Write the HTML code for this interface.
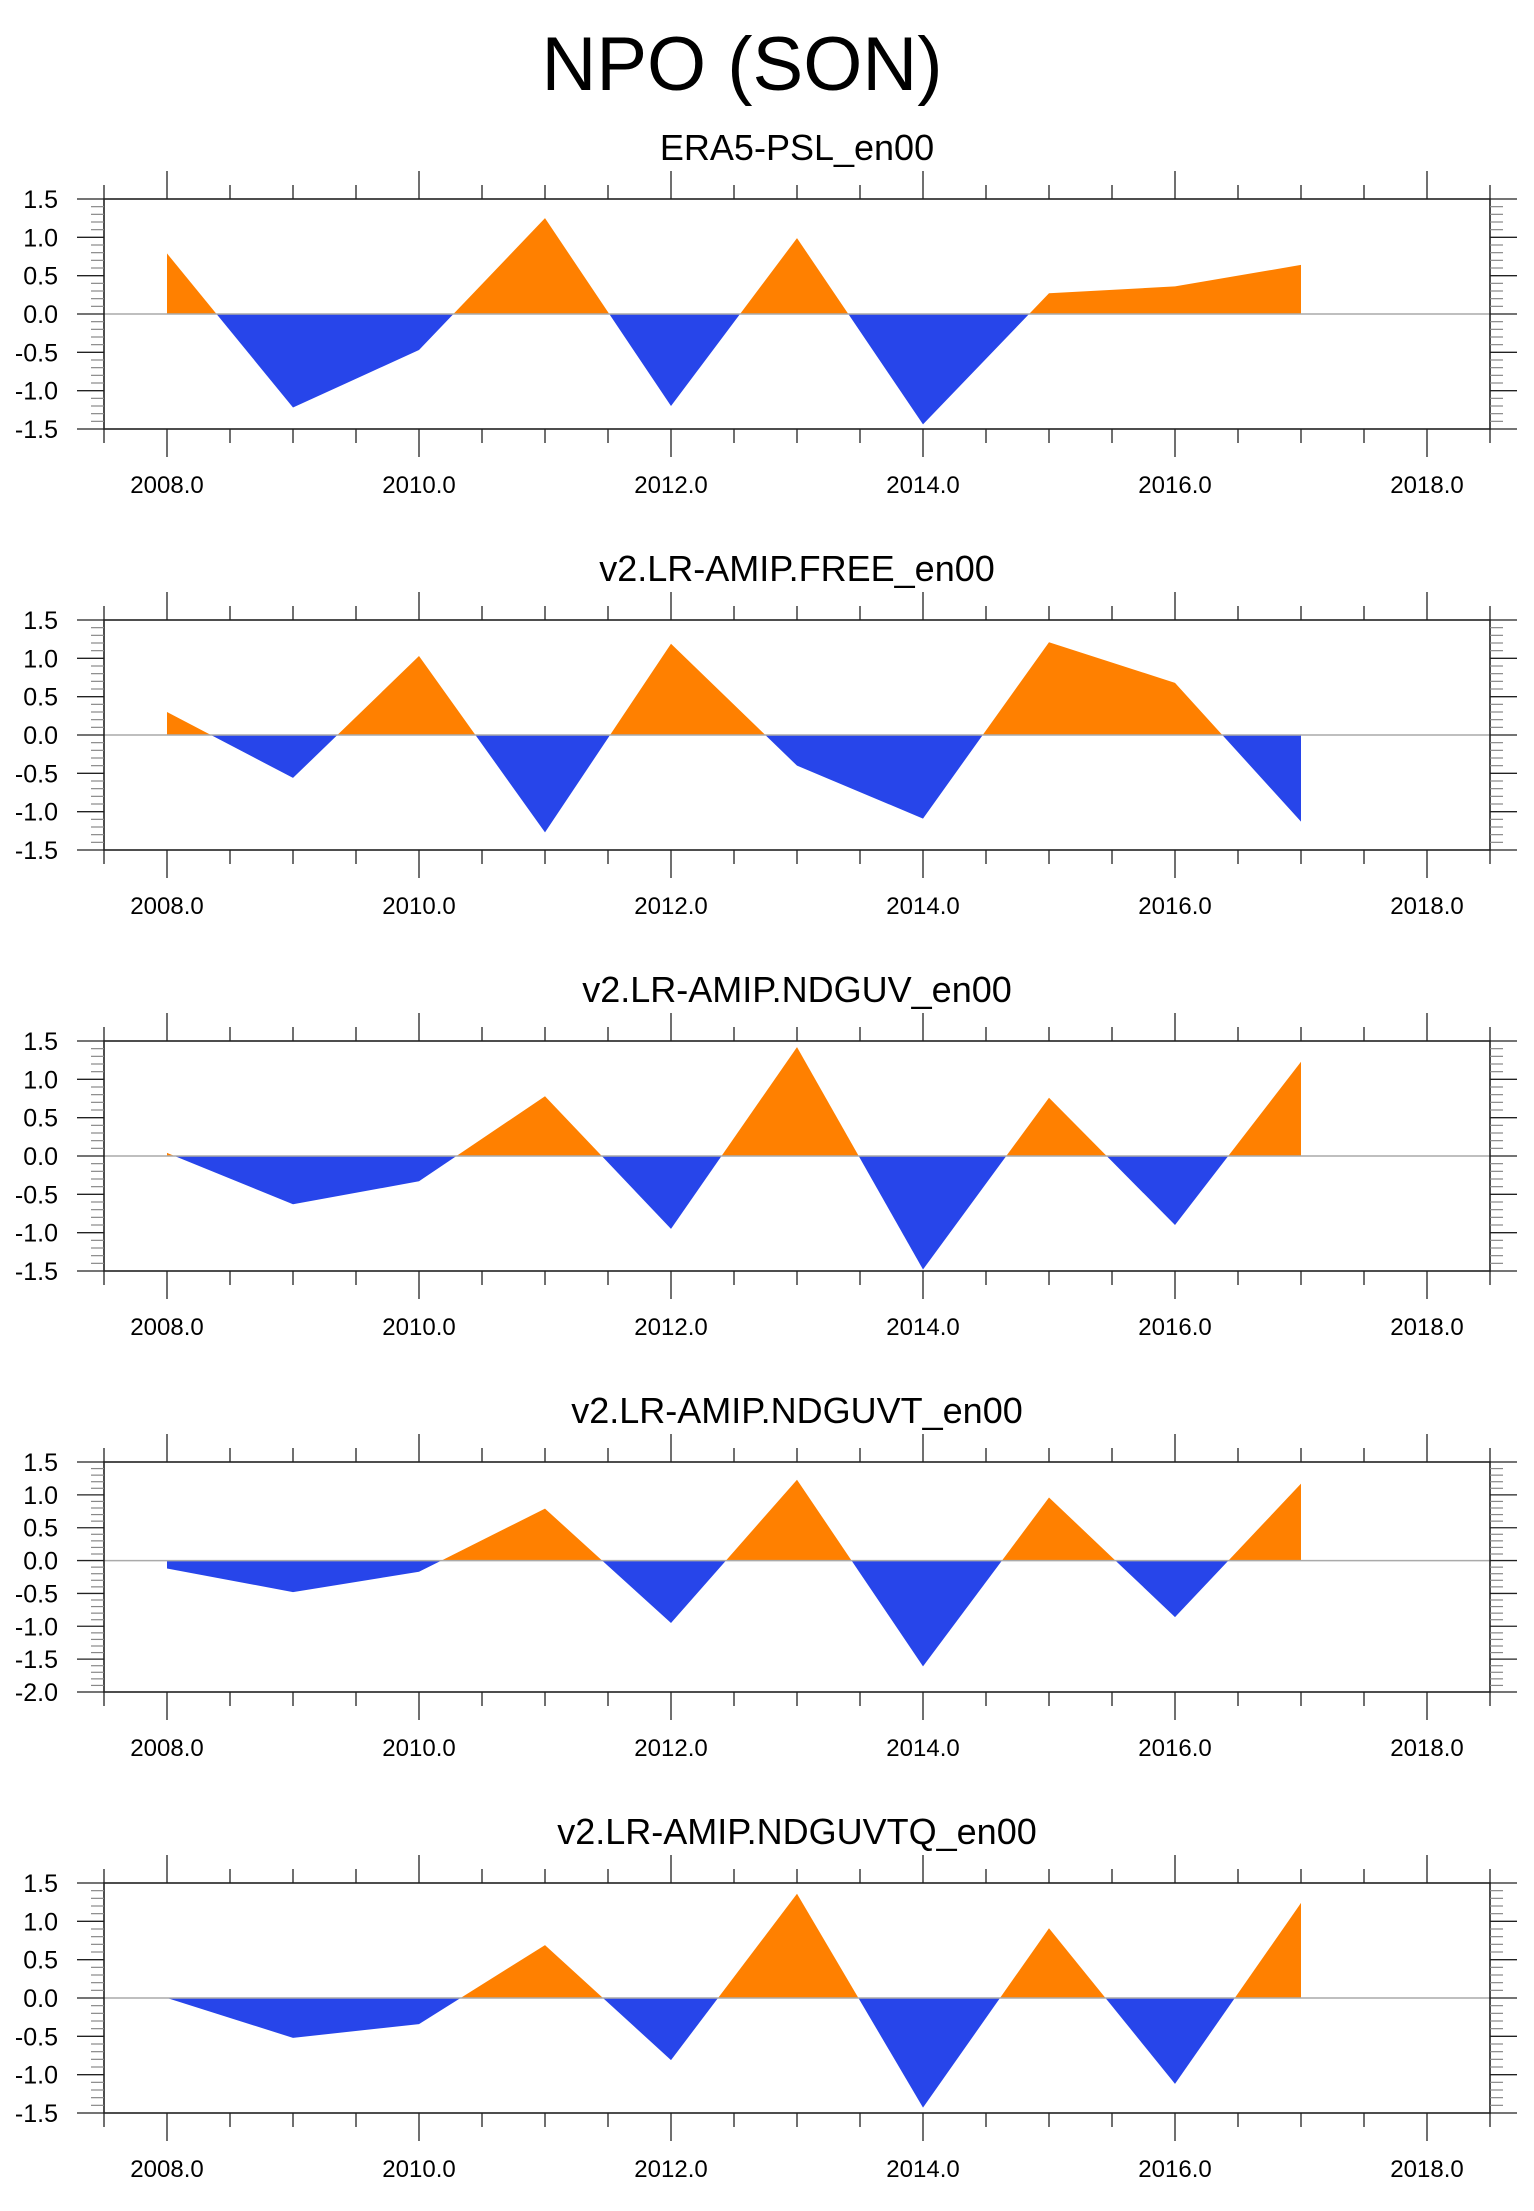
<!DOCTYPE html>
<html><head><meta charset="utf-8"><style>
html,body{margin:0;padding:0;background:#fff;}
svg{display:block;font-family:"Liberation Sans",Arial,sans-serif;}
</style></head><body>
<svg id="chart" width="1534" height="2211" viewBox="0 0 1534 2211" xmlns="http://www.w3.org/2000/svg">
<text x="742" y="90" font-size="76" text-anchor="middle">NPO (SON)</text>
</svg>
<script>
const years = [2008,2009,2010,2011,2012,2013,2014,2015,2016,2017];
const titles = ["ERA5-PSL_en00","v2.LR-AMIP.FREE_en00","v2.LR-AMIP.NDGUV_en00","v2.LR-AMIP.NDGUVT_en00","v2.LR-AMIP.NDGUVTQ_en00"];
const seriesEra5 = [0.79,-1.22,-0.47,1.25,-1.20,0.99,-1.44,0.27,0.36,0.64];
const seriesFree = [0.30,-0.56,1.03,-1.27,1.19,-0.40,-1.09,1.21,0.68,-1.13];
const seriesNdguv = [0.04,-0.63,-0.33,0.78,-0.95,1.42,-1.48,0.76,-0.90,1.23];
const seriesNdguvt = [-0.12,-0.48,-0.17,0.79,-0.95,1.23,-1.61,0.96,-0.86,1.17];
const seriesNdguvtq = [0.0,-0.52,-0.34,0.69,-0.81,1.36,-1.43,0.91,-1.12,1.24];
const yMins = [-1.5,-1.5,-1.5,-2.0,-1.5];
const yMaxs = [1.5,1.5,1.5,1.5,1.5];
const xTickLabels = ["2008.0","2010.0","2012.0","2014.0","2016.0","2018.0"];
const allSeries = [seriesEra5,seriesFree,seriesNdguv,seriesNdguvt,seriesNdguvtq];

const svg = document.getElementById('chart');
const NS = "http://www.w3.org/2000/svg";
const L = 104, R = 1490, H = 230;
const X0 = 2007.5, X1 = 2018.5;
function mk(tag, attrs, parent){ const e=document.createElementNS(NS,tag); for(const k in attrs) e.setAttribute(k,attrs[k]); parent.appendChild(e); return e; }
function xs(v){ return L + (v - X0) / (X1 - X0) * (R - L); }

allSeries.forEach((vals, p) => {
  const top = 199 + 421 * p, bot = top + H;
  const ymin = yMins[p], ymax = yMaxs[p];
  const ys = v => top + (ymax - v) / (ymax - ymin) * H;
  const g = mk('g', {}, svg);
  
  
  const t = mk('text', {x: (L+R)/2, y: top-39, 'font-size': 36, 'text-anchor': 'middle'}, g);
  t.textContent = titles[p];
  
  
  // fills: split at zero crossings
  let pos = [], neg = [];
  const z = ys(0);
  for (let i = 0; i < vals.length - 1; i++) {
    const a = vals[i], b = vals[i+1];
    const xa = xs(years[i]), xb = xs(years[i+1]);
    let segs = [];
    if ((a >= 0 && b >= 0) || (a <= 0 && b <= 0)) segs.push([xa,a,xb,b]);
    else { const f = a/(a-b); const xc = xa + f*(xb-xa); segs.push([xa,a,xc,0]); segs.push([xc,0,xb,b]); }
    segs.forEach(s => {
      const sign = (s[1] + s[3]);
      const poly = `${s[0]},${z} ${s[0]},${ys(s[1])} ${s[2]},${ys(s[3])} ${s[2]},${z}`;
      const pg = mk('polygon', {points: poly, fill: sign >= 0 ? '#ff8000' : '#2745ea'}, g);
      
      
    });
  }
  const zl = mk('line', {x1: L, x2: R, y1: z, y2: z, stroke: '#aaa', 'stroke-width': 1.5}, g);
  
  
  // frame
  const fr = mk('rect', {x: L, y: top, width: R-L, height: H, fill: 'none', stroke: '#222', 'stroke-width': 1.6}, g);
  
  
  // x ticks
  for (let k = 0; k <= 22; k++) {
    const yr = X0 + k*0.5;
    const x = xs(yr);
    const major = Math.abs(yr % 2) < 1e-6;
    const len = major ? 28 : 14;
    mk('line', {x1:x, x2:x, y1:bot, y2:bot+len, stroke:'#222', 'stroke-width':1.3}, g);
    mk('line', {x1:x, x2:x, y1:top, y2:top-len, stroke:'#222', 'stroke-width':1.3}, g);
  }
  xTickLabels.forEach(lb => {
    const tx = mk('text', {x: xs(parseFloat(lb)), y: bot+64, 'font-size': 24, 'text-anchor': 'middle'}, g);
    tx.textContent = lb;
    
    
  });
  // y ticks
  const nMinor = Math.round((ymax - ymin) / 0.1);
  for (let k = 0; k <= nMinor; k++) {
    const v = ymin + k*0.1;
    const y = ys(v);
    const major = k % 5 === 0;
    if (major) {
      mk('line', {x1:L-27, x2:L, y1:y, y2:y, stroke:'#222', 'stroke-width':1.3}, g);
      mk('line', {x1:R, x2:R+27, y1:y, y2:y, stroke:'#222', 'stroke-width':1.3}, g);
      const ty = mk('text', {x: 58, y: y+9, 'font-size': 25, 'text-anchor': 'end'}, g);
      ty.textContent = v.toFixed(1).replace('-0.0','0.0');
      
      
    } else {
      mk('line', {x1:L-13, x2:L, y1:y, y2:y, stroke:'#888', 'stroke-width':1.2}, g);
      mk('line', {x1:R, x2:R+13, y1:y, y2:y, stroke:'#888', 'stroke-width':1.2}, g);
    }
  }
});
</script>
</body></html>
